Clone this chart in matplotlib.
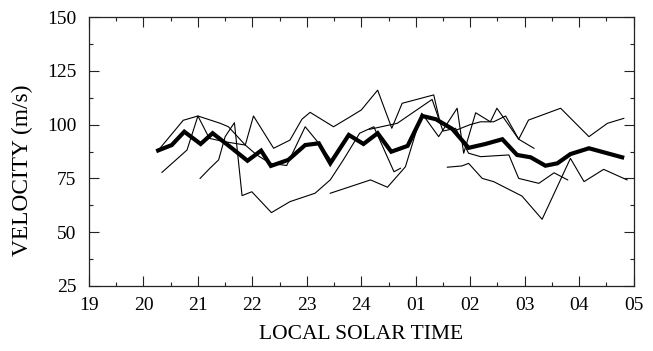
import matplotlib
matplotlib.use("Agg")
import matplotlib.pyplot as plt
from matplotlib.ticker import MultipleLocator, FixedLocator, FixedFormatter

plt.rcParams['font.family'] = ['Liberation Serif', 'DejaVu Serif']

# hours after 19 LT run past 24 (25 = 01 LT, ...)
mean_t = [20.27, 20.52, 20.75, 21.05, 21.27, 21.6, 21.91, 22.16, 22.34, 22.66,
          22.97, 23.22, 23.43, 23.77, 24.04, 24.30, 24.55, 24.85, 25.12, 25.37,
          25.67, 25.97, 26.28, 26.59, 26.86, 27.11, 27.38, 27.60, 27.84, 28.18, 28.79]
mean_v = [88, 90.5, 96.7, 91, 96, 89.5, 83.2, 87.9, 80.8, 83.6,
          90.5, 91.3, 82, 95.2, 91, 96, 87.4, 90.1, 104, 102.5,
          98, 89.2, 91, 93.2, 85.9, 84.8, 80.9, 82, 86.3, 89, 84.8]

night_a_t = [20.27, 20.73, 21.0, 21.41, 21.56, 21.87, 22.02, 22.39, 22.69, 22.91,
             23.06, 23.49, 23.8, 24.0, 24.3, 24.56, 24.75, 25.33, 25.45, 25.7,
             26.0, 26.19, 26.43, 26.65, 26.89, 27.17]
night_a_v = [88, 102, 104, 100.6, 99, 90.5, 104, 89, 92.8, 102.5,
             105.7, 99, 103.7, 106.8, 116, 98.3, 109.9, 113.8, 100.6, 97,
             100, 101.3, 101.3, 104, 93.2, 89]

night_b_t = [20.34, 20.8, 21.0, 21.21, 21.5, 21.87, 22.08, 22.33, 22.63, 22.97, 23.22, 23.43]
night_b_v = [77.8, 88.2, 104, 93.6, 92, 90.5, 85.9, 82, 81, 99, 91.3, 84]

night_c_t = [21.04, 21.22, 21.38, 21.5, 21.67, 21.81, 21.99, 22.35, 22.69, 23.15,
             23.43, 23.67, 23.97, 24.23, 24.6, 24.72]
night_c_v = [75, 79.7, 83.6, 94.4, 100.9, 67, 68.8, 59.1, 64.2, 68.1,
             74.3, 83.6, 96, 99, 78.1, 79.7]

night_d_t = [23.43, 24.17, 24.48, 24.81, 25.11, 25.42, 25.76, 25.88, 26.1, 26.37,
             26.49, 26.89, 27.07, 27.66, 28.18, 28.52, 28.82]
night_d_v = [68.1, 74.3, 70.9, 80.4, 105.3, 94.4, 107.6, 86.7, 105.5, 101.3,
             107.6, 93.2, 102.1, 107.6, 94.4, 100.6, 102.9]

night_e_t = [24.15, 24.66, 25.3, 25.5, 25.73, 25.97, 26.19, 26.71, 26.89, 27.26, 27.54, 27.79]
night_e_v = [97.8, 100.6, 111.7, 97, 98.3, 86.7, 85.1, 85.9, 75, 72.7, 77.6, 74.3]

night_f_t = [25.58, 25.85, 25.97, 26.22, 26.43, 26.95, 27.32, 27.84, 28.09, 28.45, 28.88]
night_f_v = [80.2, 80.8, 82, 75.0, 73.5, 66.8, 56, 84.3, 73.5, 79.2, 74.3]

hour_ticks = [19, 20, 21, 22, 23, 24, 25, 26, 27, 28, 29]
hour_labels = ['19', '20', '21', '22', '23', '24', '01', '02', '03', '04', '05']

fig = plt.figure(figsize=(6.53, 3.51), dpi=100)
ax = fig.add_axes([89 / 653, 1 - 286 / 351, (633.6 - 89) / 653, (286 - 17) / 351])

nights = [(night_a_t, night_a_v), (night_b_t, night_b_v), (night_c_t, night_c_v),
          (night_d_t, night_d_v), (night_e_t, night_e_v), (night_f_t, night_f_v)]
for t, v in nights:
    ax.plot(t, v, color='black', lw=0.8)
ax.plot(mean_t, mean_v, color='black', lw=3.0, solid_joinstyle='miter')

ax.set_xlim(19, 29)
ax.set_ylim(25, 150)
ax.xaxis.set_major_locator(FixedLocator(hour_ticks))
ax.xaxis.set_major_formatter(FixedFormatter(hour_labels))
ax.xaxis.set_minor_locator(MultipleLocator(0.5))
ax.yaxis.set_major_locator(MultipleLocator(25))
ax.yaxis.set_minor_locator(MultipleLocator(12.5))

ax.tick_params(which='both', direction='in', top=True, right=True,
               width=0.8, colors='#222222', labelcolor='black', labelsize=14)
ax.tick_params(which='major', length=7)
ax.tick_params(which='minor', length=3)
ax.tick_params(axis='x', pad=8)
ax.tick_params(axis='y', pad=9)
for s in ax.spines.values():
    s.set_linewidth(0.9)
    s.set_color('#222222')

ax.set_xlabel('LOCAL SOLAR TIME', fontsize=15.5)
ax.set_ylabel('VELOCITY (m/s)', fontsize=16.8)
ax.xaxis.set_label_coords(0.5, -0.145)
ax.yaxis.set_label_coords(-0.103, 0.431)

fig.savefig('out.png', dpi=100)
